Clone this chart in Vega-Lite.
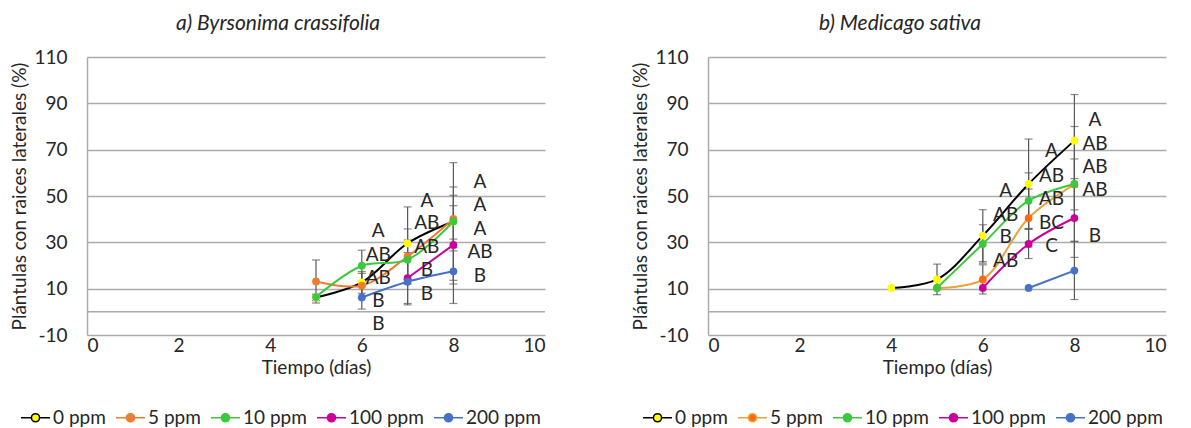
{
  "$schema": "https://vega.github.io/schema/vega-lite/v6.json",
  "padding": {"left": 10, "top": 13, "right": 5, "bottom": 5},
  "background": "white",
  "config": {
    "font": "Lato",
    "view": {"stroke": null},
    "axis": {"labelFont": "Lato", "labelFontSize": 19, "labelColor": "#262626", "titleFont": "Lato", "titleFontSize": 19, "titleFontWeight": "normal", "titleColor": "#262626", "gridColor": "#ABABAB", "gridWidth": 1.5, "domainColor": "#ABABAB", "domainWidth": 1.5, "ticks": false},
    "title": {"font": "Lato", "fontSize": 21, "fontWeight": "normal", "color": "#262626", "offset": 14},
    "legend": {"labelFont": "Lato", "labelFontSize": 19, "labelColor": "#262626"}
  },
  "datasets": {
    "pts": [
      {"panel": "a", "series": "0 ppm", "day": 5, "pct": 6.2},
      {"panel": "a", "series": "0 ppm", "day": 6, "pct": 12.7},
      {"panel": "a", "series": "0 ppm", "day": 7, "pct": 29.6},
      {"panel": "a", "series": "0 ppm", "day": 8, "pct": 39},
      {"panel": "a", "series": "5 ppm", "day": 5, "pct": 13.1},
      {"panel": "a", "series": "5 ppm", "day": 6, "pct": 11.3},
      {"panel": "a", "series": "5 ppm", "day": 7, "pct": 23.9},
      {"panel": "a", "series": "5 ppm", "day": 8, "pct": 40.1},
      {"panel": "a", "series": "10 ppm", "day": 5, "pct": 6.4},
      {"panel": "a", "series": "10 ppm", "day": 6, "pct": 19.9},
      {"panel": "a", "series": "10 ppm", "day": 7, "pct": 22.5},
      {"panel": "a", "series": "10 ppm", "day": 8, "pct": 39},
      {"panel": "a", "series": "100 ppm", "day": 7, "pct": 14.6},
      {"panel": "a", "series": "100 ppm", "day": 8, "pct": 28.9},
      {"panel": "a", "series": "200 ppm", "day": 6, "pct": 6.2},
      {"panel": "a", "series": "200 ppm", "day": 7, "pct": 13},
      {"panel": "a", "series": "200 ppm", "day": 8, "pct": 17.5},
      {"panel": "b", "series": "0 ppm", "day": 4, "pct": 10.3},
      {"panel": "b", "series": "0 ppm", "day": 5, "pct": 14},
      {"panel": "b", "series": "0 ppm", "day": 6, "pct": 32.9},
      {"panel": "b", "series": "0 ppm", "day": 7, "pct": 55.2},
      {"panel": "b", "series": "0 ppm", "day": 8, "pct": 73.9},
      {"panel": "b", "series": "5 ppm", "day": 5, "pct": 10.3},
      {"panel": "b", "series": "5 ppm", "day": 6, "pct": 14},
      {"panel": "b", "series": "5 ppm", "day": 7, "pct": 40.5},
      {"panel": "b", "series": "5 ppm", "day": 8, "pct": 55},
      {"panel": "b", "series": "10 ppm", "day": 5, "pct": 10.3},
      {"panel": "b", "series": "10 ppm", "day": 6, "pct": 29.3},
      {"panel": "b", "series": "10 ppm", "day": 7, "pct": 48},
      {"panel": "b", "series": "10 ppm", "day": 8, "pct": 55.2},
      {"panel": "b", "series": "100 ppm", "day": 6, "pct": 10.3},
      {"panel": "b", "series": "100 ppm", "day": 7, "pct": 29.3},
      {"panel": "b", "series": "100 ppm", "day": 8, "pct": 40.5},
      {"panel": "b", "series": "200 ppm", "day": 7, "pct": 10.3},
      {"panel": "b", "series": "200 ppm", "day": 8, "pct": 17.8}
    ],
    "err": [
      {"panel": "a", "series": "0 ppm", "day": 5, "lo": 4.8, "hi": 7.6},
      {"panel": "a", "series": "5 ppm", "day": 5, "lo": 3.8, "hi": 22.4},
      {"panel": "a", "series": "0 ppm", "day": 6, "lo": 8, "hi": 17.4},
      {"panel": "a", "series": "5 ppm", "day": 6, "lo": 6, "hi": 16.6},
      {"panel": "a", "series": "10 ppm", "day": 6, "lo": 13.2, "hi": 26.6},
      {"panel": "a", "series": "200 ppm", "day": 6, "lo": 1.2, "hi": 11.2},
      {"panel": "a", "series": "0 ppm", "day": 7, "lo": 13.9, "hi": 45.3},
      {"panel": "a", "series": "5 ppm", "day": 7, "lo": 12, "hi": 35.8},
      {"panel": "a", "series": "10 ppm", "day": 7, "lo": 14, "hi": 31},
      {"panel": "a", "series": "100 ppm", "day": 7, "lo": 3.6, "hi": 25.6},
      {"panel": "a", "series": "200 ppm", "day": 7, "lo": 3, "hi": 23},
      {"panel": "a", "series": "0 ppm", "day": 8, "lo": 13.6, "hi": 64.4},
      {"panel": "a", "series": "5 ppm", "day": 8, "lo": 26.3, "hi": 53.9},
      {"panel": "a", "series": "10 ppm", "day": 8, "lo": 27.7, "hi": 50.3},
      {"panel": "a", "series": "100 ppm", "day": 8, "lo": 12, "hi": 45.8},
      {"panel": "a", "series": "200 ppm", "day": 8, "lo": 3.6, "hi": 31.4},
      {"panel": "b", "series": "0 ppm", "day": 5, "lo": 7.4, "hi": 20.6},
      {"panel": "b", "series": "0 ppm", "day": 6, "lo": 21.7, "hi": 44.1},
      {"panel": "b", "series": "10 ppm", "day": 6, "lo": 21, "hi": 37.6},
      {"panel": "b", "series": "5 ppm", "day": 6, "lo": 7.7, "hi": 20.3},
      {"panel": "b", "series": "0 ppm", "day": 7, "lo": 35.8, "hi": 74.6},
      {"panel": "b", "series": "10 ppm", "day": 7, "lo": 36, "hi": 60},
      {"panel": "b", "series": "5 ppm", "day": 7, "lo": 28, "hi": 53},
      {"panel": "b", "series": "100 ppm", "day": 7, "lo": 23, "hi": 35.6},
      {"panel": "b", "series": "0 ppm", "day": 8, "lo": 54, "hi": 93.8},
      {"panel": "b", "series": "5 ppm", "day": 8, "lo": 44, "hi": 66},
      {"panel": "b", "series": "10 ppm", "day": 8, "lo": 30.5, "hi": 80},
      {"panel": "b", "series": "100 ppm", "day": 8, "lo": 23.5, "hi": 57.5},
      {"panel": "b", "series": "200 ppm", "day": 8, "lo": 5.3, "hi": 30.3}
    ],
    "lbl": [
      {"panel": "a", "day": 6.36, "pct": 34.8, "label": "A"},
      {"panel": "a", "day": 6.36, "pct": 24.7, "label": "AB"},
      {"panel": "a", "day": 6.36, "pct": 14.6, "label": "AB"},
      {"panel": "a", "day": 6.36, "pct": 4.8, "label": "B"},
      {"panel": "a", "day": 6.36, "pct": -5.3, "label": "B"},
      {"panel": "a", "day": 7.42, "pct": 47.7, "label": "A"},
      {"panel": "a", "day": 7.42, "pct": 38.2, "label": "AB"},
      {"panel": "a", "day": 7.42, "pct": 28.1, "label": "AB"},
      {"panel": "a", "day": 7.42, "pct": 18, "label": "B"},
      {"panel": "a", "day": 7.42, "pct": 7.7, "label": "B"},
      {"panel": "a", "day": 8.58, "pct": 56, "label": "A"},
      {"panel": "a", "day": 8.58, "pct": 45.9, "label": "A"},
      {"panel": "a", "day": 8.58, "pct": 35.8, "label": "A"},
      {"panel": "a", "day": 8.58, "pct": 25.7, "label": "AB"},
      {"panel": "a", "day": 8.58, "pct": 15.6, "label": "B"},
      {"panel": "b", "day": 6.5, "pct": 52, "label": "A"},
      {"panel": "b", "day": 6.5, "pct": 42, "label": "AB"},
      {"panel": "b", "day": 6.5, "pct": 32.2, "label": "B"},
      {"panel": "b", "day": 6.5, "pct": 21.8, "label": "AB"},
      {"panel": "b", "day": 7.5, "pct": 69.3, "label": "A"},
      {"panel": "b", "day": 7.5, "pct": 58.8, "label": "AB"},
      {"panel": "b", "day": 7.5, "pct": 48.5, "label": "AB"},
      {"panel": "b", "day": 7.5, "pct": 38.4, "label": "BC"},
      {"panel": "b", "day": 7.5, "pct": 28.6, "label": "C"},
      {"panel": "b", "day": 8.45, "pct": 82.6, "label": "A"},
      {"panel": "b", "day": 8.45, "pct": 72.5, "label": "AB"},
      {"panel": "b", "day": 8.45, "pct": 62.4, "label": "AB"},
      {"panel": "b", "day": 8.45, "pct": 52.8, "label": "AB"},
      {"panel": "b", "day": 8.45, "pct": 32.6, "label": "B"}
    ]
  },
  "bounds": "flush",
  "spacing": 163,
  "resolve": {"scale": {"stroke": "independent", "fill": "independent"}, "legend": {"stroke": "independent", "fill": "independent"}},
  "hconcat": [
    {
      "width": 458,
      "height": 278,
      "title": {"text": "a) Byrsonima crassifolia", "dx": -38, "fontSize": 21, "fontStyle": "italic"},
      "layer": [
        {
          "data": {"values": [{"v": 0}]},
          "mark": {"type": "rule", "color": "#ABABAB", "strokeWidth": 1.5},
          "encoding": {
            "y": {"field": "v", "type": "quantitative", "title": "Plántulas con raices laterales (%)", "scale": {"domain": [-10, 110], "nice": false}, "axis": {"values": [-10, 10, 30, 50, 70, 90, 110], "labelExpr": "replace(datum.label, '−', '-')", "labelPadding": 20, "titlePadding": 4}}
          }
        },
        {
          "data": {"name": "err"},
          "transform": [{"filter": "datum.panel === 'a'"}],
          "mark": {"type": "errorbar", "color": "#595959", "thickness": 1.2, "ticks": {"size": 8, "color": "#595959", "thickness": 1.2}},
          "encoding": {
            "x": {"field": "day", "type": "quantitative", "title": "Tiempo (días)", "scale": {"domain": [0, 10], "nice": false}, "axis": {"values": [0, 2, 4, 6, 8, 10], "grid": false, "domain": false, "labelPadding": 1, "titlePadding": 3}},
            "y": {"field": "lo", "type": "quantitative", "title": "Plántulas con raices laterales (%)"},
            "y2": {"field": "hi"}
          }
        },
        {
          "data": {"name": "pts"},
          "transform": [{"filter": "datum.panel === 'a'"}],
          "mark": {"type": "line", "interpolate": "catmull-rom", "strokeWidth": 2},
          "encoding": {
            "x": {"field": "day", "type": "quantitative", "title": "Tiempo (días)"},
            "y": {"field": "pct", "type": "quantitative", "title": "Plántulas con raices laterales (%)"},
            "stroke": {"field": "series", "type": "nominal", "scale": {"domain": ["0 ppm", "5 ppm", "10 ppm", "100 ppm", "200 ppm"], "range": ["#000000", "#ED7D31", "#3CC83C", "#CC0099", "#4472C4"]}, "legend": {"title": null, "orient": "none", "legendX": -67, "legendY": 345, "direction": "horizontal", "symbolType": "M-1,0H-0.28M0.28,0H1M0.28,0A0.28,0.28,0,1,1,-0.28,0A0.28,0.28,0,1,1,0.28,0Z", "symbolSize": 841, "symbolStrokeWidth": 1.5, "labelOffset": 2, "columnPadding": 7}},
            "detail": {"field": "series"}
          }
        },
        {
          "data": {"name": "pts"},
          "transform": [{"filter": "datum.panel === 'a'"}],
          "mark": {"type": "point", "filled": true, "size": 60, "opacity": 1},
          "encoding": {
            "x": {"field": "day", "type": "quantitative"},
            "y": {"field": "pct", "type": "quantitative"},
            "fill": {"field": "series", "type": "nominal", "scale": {"domain": ["0 ppm", "5 ppm", "10 ppm", "100 ppm", "200 ppm"], "range": ["#FFFF00", "#ED7D31", "#3CC83C", "#CC0099", "#4472C4"]}, "legend": {"title": null, "orient": "none", "legendX": -67, "legendY": 345, "direction": "horizontal", "symbolType": "M-1,0H-0.28M0.28,0H1M0.28,0A0.28,0.28,0,1,1,-0.28,0A0.28,0.28,0,1,1,0.28,0Z", "symbolSize": 841, "symbolStrokeWidth": 1.5, "labelOffset": 2, "columnPadding": 7}}
          }
        },
        {
          "data": {"name": "lbl"},
          "transform": [{"filter": "datum.panel === 'a'"}],
          "mark": {"type": "text", "fontSize": 19, "font": "Lato", "color": "#262626", "align": "center", "baseline": "middle"},
          "encoding": {
            "x": {"field": "day", "type": "quantitative"},
            "y": {"field": "pct", "type": "quantitative"},
            "text": {"field": "label"}
          }
        }
      ]
    },
    {
      "width": 458,
      "height": 278,
      "title": {"text": "b) Medicago sativa", "dx": -37, "fontSize": 21, "fontStyle": "italic"},
      "layer": [
        {
          "data": {"values": [{"v": 0}]},
          "mark": {"type": "rule", "color": "#ABABAB", "strokeWidth": 1.5},
          "encoding": {
            "y": {"field": "v", "type": "quantitative", "title": "Plántulas con raices laterales (%)", "scale": {"domain": [-10, 110], "nice": false}, "axis": {"values": [-10, 10, 30, 50, 70, 90, 110], "labelExpr": "replace(datum.label, '−', '-')", "labelPadding": 20, "titlePadding": 4}}
          }
        },
        {
          "data": {"name": "err"},
          "transform": [{"filter": "datum.panel === 'b'"}],
          "mark": {"type": "errorbar", "color": "#595959", "thickness": 1.2, "ticks": {"size": 8, "color": "#595959", "thickness": 1.2}},
          "encoding": {
            "x": {"field": "day", "type": "quantitative", "title": "Tiempo (días)", "scale": {"domain": [0, 10], "nice": false}, "axis": {"values": [0, 2, 4, 6, 8, 10], "grid": false, "domain": false, "labelPadding": 1, "titlePadding": 3}},
            "y": {"field": "lo", "type": "quantitative", "title": "Plántulas con raices laterales (%)"},
            "y2": {"field": "hi"}
          }
        },
        {
          "data": {"name": "pts"},
          "transform": [{"filter": "datum.panel === 'b'"}],
          "mark": {"type": "line", "interpolate": "catmull-rom", "strokeWidth": 2},
          "encoding": {
            "x": {"field": "day", "type": "quantitative", "title": "Tiempo (días)"},
            "y": {"field": "pct", "type": "quantitative", "title": "Plántulas con raices laterales (%)"},
            "stroke": {"field": "series", "type": "nominal", "scale": {"domain": ["0 ppm", "5 ppm", "10 ppm", "100 ppm", "200 ppm"], "range": ["#000000", "#E8A33C", "#3CC83C", "#CC0099", "#4472C4"]}, "legend": {"title": null, "orient": "none", "legendX": -66, "legendY": 345, "direction": "horizontal", "symbolType": "M-1,0H-0.28M0.28,0H1M0.28,0A0.28,0.28,0,1,1,-0.28,0A0.28,0.28,0,1,1,0.28,0Z", "symbolSize": 841, "symbolStrokeWidth": 1.5, "labelOffset": 2, "columnPadding": 7}},
            "detail": {"field": "series"}
          }
        },
        {
          "data": {"name": "pts"},
          "transform": [{"filter": "datum.panel === 'b'"}],
          "mark": {"type": "point", "filled": true, "size": 60, "opacity": 1},
          "encoding": {
            "x": {"field": "day", "type": "quantitative"},
            "y": {"field": "pct", "type": "quantitative"},
            "fill": {"field": "series", "type": "nominal", "scale": {"domain": ["0 ppm", "5 ppm", "10 ppm", "100 ppm", "200 ppm"], "range": ["#FFFF00", "#FF6A10", "#3CC83C", "#CC0099", "#4472C4"]}, "legend": {"title": null, "orient": "none", "legendX": -66, "legendY": 345, "direction": "horizontal", "symbolType": "M-1,0H-0.28M0.28,0H1M0.28,0A0.28,0.28,0,1,1,-0.28,0A0.28,0.28,0,1,1,0.28,0Z", "symbolSize": 841, "symbolStrokeWidth": 1.5, "labelOffset": 2, "columnPadding": 7}}
          }
        },
        {
          "data": {"name": "lbl"},
          "transform": [{"filter": "datum.panel === 'b'"}],
          "mark": {"type": "text", "fontSize": 19, "font": "Lato", "color": "#262626", "align": "center", "baseline": "middle"},
          "encoding": {
            "x": {"field": "day", "type": "quantitative"},
            "y": {"field": "pct", "type": "quantitative"},
            "text": {"field": "label"}
          }
        }
      ]
    }
  ]
}
